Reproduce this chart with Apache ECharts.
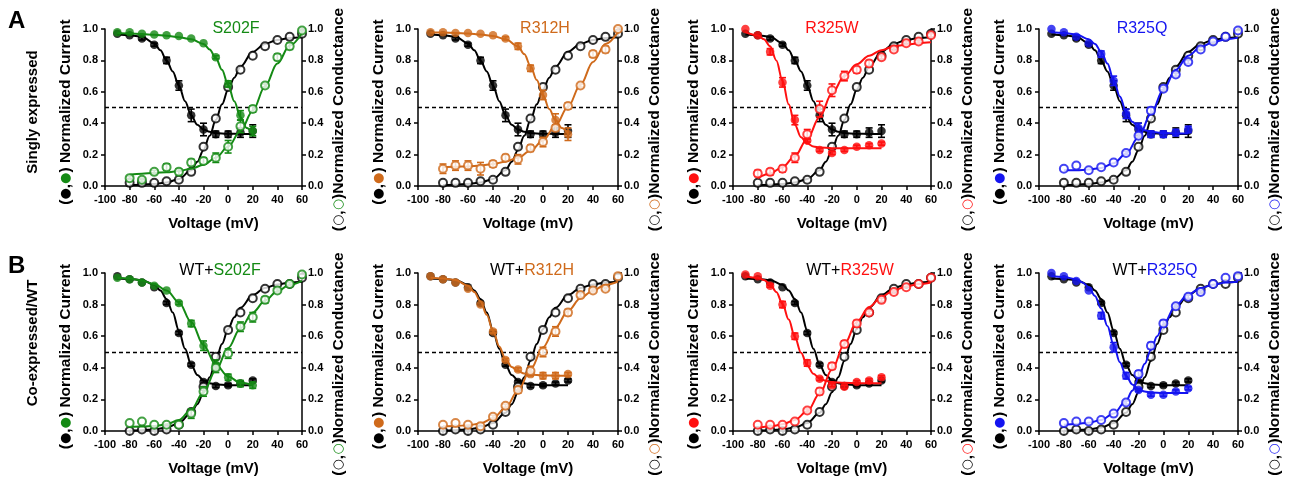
<!DOCTYPE html>
<html>
<head>
<meta charset="utf-8">
<script src="https://cdn.jsdelivr.net/npm/echarts@6/dist/echarts.min.js"></script>
<style>
  html, body { margin: 0; background: #fff; }
  #chart { width: 1289px; height: 479px; }
</style>
</head>
<body>
<div id="chart"></div>
<script>
// voltages of the measured points
const voltsCur = [-90, -80, -70, -60, -50, -40, -30, -20, -10, 0, 10, 20];
const voltsCond = [-80, -70, -60, -50, -40, -30, -20, -10, 0, 10, 20, 30, 40, 50, 60];
const xTicks = [-100, 60, 20];   // min, max, step
const yTicks = [0, 1, 0.2];

// ---- row A, WT alone ----
const wtACur = [0.97, 0.96, 0.94, 0.90, 0.80, 0.64, 0.45, 0.36, 0.33, 0.33, 0.34, 0.35];
const wtACurErr = [0, 0, 0.01, 0.01, 0.02, 0.03, 0.04, 0.04, 0.02, 0.02, 0.03, 0.04];
const wtACond = [0.02, 0.02, 0.02, 0.03, 0.04, 0.09, 0.25, 0.43, 0.63, 0.74, 0.83, 0.89, 0.93, 0.95, 0.97];
const wtACondErr = [0, 0, 0, 0, 0, 0, 0, 0, 0, 0, 0, 0, 0, 0, 0];
const wtACurFit = [[-90, 0.965], [-80, 0.96], [-70, 0.95], [-60, 0.91], [-55, 0.865], [-50, 0.80], [-45, 0.73], [-40, 0.64], [-35, 0.54], [-30, 0.45], [-25, 0.39], [-20, 0.36], [-15, 0.345], [-10, 0.337], [0, 0.333], [10, 0.332], [20, 0.332]];
const wtACondFit = [[-80, 0.005], [-70, 0.008], [-60, 0.013], [-50, 0.022], [-40, 0.045], [-30, 0.10], [-25, 0.155], [-20, 0.23], [-15, 0.32], [-10, 0.42], [-5, 0.52], [0, 0.615], [5, 0.69], [10, 0.76], [20, 0.855], [30, 0.905], [40, 0.93], [50, 0.943], [60, 0.948]];

// ---- row B, WT alone ----
const wtBCur = [0.98, 0.96, 0.94, 0.91, 0.81, 0.62, 0.42, 0.31, 0.285, 0.29, 0.30, 0.32];
const wtBCurErr = [0, 0, 0, 0, 0.01, 0.01, 0.01, 0.01, 0.01, 0.01, 0.01, 0.01];
const wtBCond = [0.0, 0.01, 0.0, 0.01, 0.04, 0.12, 0.28, 0.47, 0.64, 0.75, 0.84, 0.90, 0.93, 0.93, 0.97];
const wtBCondErr = [0, 0, 0, 0, 0, 0, 0, 0, 0, 0, 0, 0, 0, 0, 0];
const wtBCurFit = [[-90, 0.965], [-80, 0.962], [-70, 0.955], [-60, 0.925], [-55, 0.89], [-50, 0.835], [-45, 0.75], [-40, 0.635], [-35, 0.52], [-30, 0.42], [-25, 0.355], [-20, 0.32], [-15, 0.303], [-10, 0.295], [0, 0.29], [10, 0.29], [20, 0.29]];
const wtBCondFit = [[-80, 0.002], [-70, 0.005], [-60, 0.01], [-50, 0.022], [-40, 0.05], [-30, 0.115], [-25, 0.17], [-20, 0.245], [-15, 0.34], [-10, 0.445], [-5, 0.55], [0, 0.645], [5, 0.72], [10, 0.78], [20, 0.86], [30, 0.905], [40, 0.928], [50, 0.94], [60, 0.945]];

// ---- singly expressed mutants ----
const s202fCur = [0.98, 0.98, 0.97, 0.965, 0.96, 0.955, 0.94, 0.91, 0.82, 0.65, 0.45, 0.35];
const s202fCurErr = [0, 0, 0, 0, 0, 0, 0, 0, 0.01, 0.02, 0.03, 0.03];
const s202fCond = [0.05, 0.04, 0.09, 0.12, 0.09, 0.15, 0.16, 0.18, 0.25, 0.38, 0.49, 0.64, 0.82, 0.89, 0.99];
const s202fCondErr = [0.01, 0.01, 0.01, 0.02, 0.02, 0.02, 0.02, 0.03, 0.04, 0.04, 0.02, 0.01, 0.02, 0.02, 0.01];
const s202fCurFit = [[-90, 0.975], [-80, 0.972], [-70, 0.968], [-60, 0.963], [-50, 0.957], [-40, 0.948], [-30, 0.935], [-20, 0.905], [-15, 0.87], [-10, 0.815], [-5, 0.74], [0, 0.645], [5, 0.54], [10, 0.44], [15, 0.37], [20, 0.335]];
const s202fCondFit = [[-80, 0.072], [-70, 0.078], [-60, 0.083], [-50, 0.088], [-40, 0.095], [-30, 0.11], [-20, 0.135], [-10, 0.18], [0, 0.25], [10, 0.35], [20, 0.48], [30, 0.635], [40, 0.78], [50, 0.895], [60, 0.975]];

const r312hCur = [0.98, 0.98, 0.975, 0.975, 0.97, 0.96, 0.94, 0.89, 0.75, 0.58, 0.42, 0.33];
const r312hCurErr = [0, 0, 0, 0, 0, 0, 0.01, 0.02, 0.02, 0.03, 0.04, 0.04];
const r312hCond = [0.11, 0.13, 0.13, 0.11, 0.14, 0.18, 0.17, 0.24, 0.28, 0.37, 0.51, 0.64, 0.84, 0.87, 1.0];
const r312hCondErr = [0.03, 0.03, 0.03, 0.04, 0.02, 0.02, 0.03, 0.02, 0.03, 0.02, 0.02, 0.01, 0.02, 0.02, 0.01];
const r312hCurFit = [[-90, 0.978], [-80, 0.977], [-70, 0.975], [-60, 0.972], [-50, 0.965], [-40, 0.955], [-30, 0.935], [-20, 0.89], [-15, 0.84], [-10, 0.765], [-5, 0.675], [0, 0.58], [5, 0.49], [10, 0.42], [15, 0.37], [20, 0.335]];
const r312hCondFit = [[-80, 0.12], [-70, 0.122], [-60, 0.125], [-50, 0.13], [-40, 0.14], [-30, 0.155], [-20, 0.18], [-10, 0.225], [0, 0.29], [10, 0.385], [20, 0.505], [30, 0.645], [40, 0.79], [50, 0.905], [60, 0.98]];

const r325wCur = [1.0, 0.96, 0.855, 0.66, 0.42, 0.29, 0.23, 0.21, 0.23, 0.25, 0.26, 0.27];
const r325wCurErr = [0, 0, 0.02, 0.03, 0.03, 0.01, 0.01, 0.01, 0.01, 0.01, 0.01, 0.01];
const r325wCond = [0.08, 0.09, 0.11, 0.18, 0.33, 0.49, 0.61, 0.70, 0.74, 0.78, 0.82, 0.87, 0.91, 0.92, 0.96];
const r325wCondErr = [0.02, 0.02, 0.02, 0.03, 0.03, 0.05, 0.04, 0.03, 0.02, 0.02, 0.01, 0.01, 0.01, 0.01, 0.01];
const r325wCurFit = [[-90, 0.98], [-80, 0.96], [-75, 0.935], [-70, 0.89], [-65, 0.80], [-60, 0.67], [-55, 0.52], [-50, 0.39], [-45, 0.31], [-40, 0.27], [-35, 0.252], [-30, 0.245], [-20, 0.241], [-10, 0.24], [0, 0.24], [10, 0.24], [20, 0.24]];
const r325wCondFit = [[-80, 0.05], [-70, 0.08], [-60, 0.12], [-50, 0.19], [-40, 0.30], [-30, 0.44], [-20, 0.59], [-10, 0.70], [0, 0.775], [10, 0.83], [20, 0.865], [30, 0.89], [40, 0.90], [50, 0.91], [60, 0.915]];

const r325qCur = [1.0, 0.98, 0.95, 0.91, 0.84, 0.67, 0.46, 0.37, 0.33, 0.33, 0.34, 0.36];
const r325qCurErr = [0, 0, 0, 0, 0.02, 0.03, 0.03, 0.03, 0.02, 0.02, 0.02, 0.02];
const r325qCond = [0.11, 0.13, 0.10, 0.12, 0.15, 0.21, 0.32, 0.48, 0.62, 0.71, 0.79, 0.87, 0.92, 0.95, 0.99];
const r325qCondErr = [0, 0, 0, 0, 0, 0.01, 0.01, 0.02, 0.01, 0.01, 0.01, 0, 0, 0, 0];
const r325qCurFit = [[-90, 0.98], [-80, 0.975], [-70, 0.965], [-60, 0.935], [-55, 0.905], [-50, 0.855], [-45, 0.78], [-40, 0.675], [-35, 0.57], [-30, 0.475], [-25, 0.41], [-20, 0.375], [-15, 0.355], [-10, 0.345], [0, 0.338], [10, 0.335], [20, 0.335]];
const r325qCondFit = [[-80, 0.10], [-70, 0.10], [-60, 0.105], [-50, 0.115], [-40, 0.145], [-30, 0.205], [-20, 0.31], [-10, 0.46], [0, 0.615], [10, 0.74], [20, 0.83], [30, 0.885], [40, 0.915], [50, 0.935], [60, 0.945]];

// ---- co-expressed with WT ----
const coS202fCur = [0.97, 0.96, 0.94, 0.92, 0.89, 0.81, 0.68, 0.54, 0.42, 0.34, 0.30, 0.29];
const coS202fCurErr = [0, 0, 0, 0, 0, 0.01, 0.02, 0.03, 0.03, 0.02, 0.02, 0.02];
const coS202fCond = [0.05, 0.06, 0.04, 0.04, 0.04, 0.11, 0.25, 0.40, 0.49, 0.66, 0.72, 0.83, 0.89, 0.93, 0.99];
const coS202fCondErr = [0, 0, 0, 0, 0, 0.03, 0.03, 0.03, 0.03, 0.03, 0.03, 0.02, 0.01, 0.01, 0];
const coS202fCurFit = [[-90, 0.97], [-80, 0.965], [-70, 0.952], [-60, 0.93], [-50, 0.89], [-40, 0.815], [-30, 0.69], [-20, 0.545], [-10, 0.42], [0, 0.345], [10, 0.305], [20, 0.29]];
const coS202fCondFit = [[-80, 0.025], [-70, 0.028], [-60, 0.032], [-50, 0.042], [-40, 0.07], [-30, 0.135], [-20, 0.245], [-10, 0.385], [0, 0.525], [10, 0.65], [20, 0.75], [30, 0.825], [40, 0.885], [50, 0.925], [60, 0.95]];

const coR312hCur = [0.98, 0.96, 0.94, 0.90, 0.80, 0.63, 0.45, 0.39, 0.36, 0.35, 0.35, 0.36];
const coR312hCurErr = [0, 0, 0, 0, 0, 0.01, 0.01, 0.01, 0.01, 0.02, 0.02, 0.01];
const coR312hCond = [0.04, 0.05, 0.04, 0.03, 0.09, 0.16, 0.26, 0.38, 0.50, 0.63, 0.75, 0.86, 0.89, 0.90, 0.98];
const coR312hCondErr = [0, 0, 0, 0, 0.01, 0.01, 0.02, 0.03, 0.03, 0.03, 0.02, 0.01, 0.01, 0.01, 0];
const coR312hCurFit = [[-90, 0.97], [-80, 0.965], [-70, 0.955], [-60, 0.92], [-55, 0.88], [-50, 0.82], [-45, 0.735], [-40, 0.635], [-35, 0.535], [-30, 0.455], [-25, 0.405], [-20, 0.378], [-15, 0.364], [-10, 0.357], [0, 0.352], [10, 0.35], [20, 0.35]];
const coR312hCondFit = [[-80, 0.03], [-70, 0.032], [-60, 0.036], [-50, 0.048], [-40, 0.08], [-30, 0.145], [-20, 0.255], [-10, 0.39], [0, 0.53], [10, 0.655], [20, 0.76], [30, 0.84], [40, 0.89], [50, 0.925], [60, 0.945]];

const coR325wCur = [0.99, 0.98, 0.92, 0.80, 0.60, 0.43, 0.33, 0.29, 0.28, 0.31, 0.32, 0.34];
const coR325wCurErr = [0, 0, 0.01, 0.02, 0.02, 0.02, 0.01, 0.01, 0.01, 0.01, 0.01, 0.01];
const coR325wCond = [0.04, 0.04, 0.04, 0.06, 0.13, 0.25, 0.41, 0.55, 0.68, 0.75, 0.83, 0.88, 0.91, 0.93, 0.97];
const coR325wCondErr = [0, 0, 0, 0, 0.01, 0.02, 0.02, 0.02, 0.02, 0.01, 0.01, 0.01, 0, 0, 0];
const coR325wCurFit = [[-90, 0.98], [-80, 0.97], [-75, 0.955], [-70, 0.93], [-65, 0.88], [-60, 0.805], [-55, 0.705], [-50, 0.595], [-45, 0.495], [-40, 0.415], [-35, 0.362], [-30, 0.332], [-25, 0.318], [-20, 0.31], [-10, 0.305], [0, 0.303], [10, 0.302], [20, 0.302]];
const coR325wCondFit = [[-80, 0.02], [-70, 0.028], [-60, 0.042], [-50, 0.07], [-40, 0.125], [-30, 0.235], [-20, 0.39], [-10, 0.55], [0, 0.69], [10, 0.785], [20, 0.85], [30, 0.89], [40, 0.915], [50, 0.93], [60, 0.94]];

const coR325qCur = [1.0, 0.98, 0.95, 0.89, 0.73, 0.53, 0.35, 0.26, 0.23, 0.23, 0.25, 0.27];
const coR325qCurErr = [0, 0, 0, 0, 0.02, 0.03, 0.02, 0.01, 0.01, 0.01, 0.01, 0.01];
const coR325qCond = [0.05, 0.06, 0.06, 0.07, 0.11, 0.18, 0.36, 0.54, 0.68, 0.79, 0.85, 0.88, 0.93, 0.97, 0.98];
const coR325qCondErr = [0, 0, 0, 0, 0, 0.01, 0.02, 0.02, 0.02, 0.01, 0.01, 0.01, 0, 0, 0];
const coR325qCurFit = [[-90, 0.98], [-80, 0.975], [-70, 0.96], [-65, 0.94], [-60, 0.91], [-55, 0.855], [-50, 0.775], [-45, 0.665], [-40, 0.545], [-35, 0.435], [-30, 0.35], [-25, 0.295], [-20, 0.265], [-15, 0.25], [-10, 0.243], [0, 0.24], [10, 0.24], [20, 0.24]];
const coR325qCondFit = [[-80, 0.04], [-70, 0.045], [-60, 0.052], [-50, 0.07], [-40, 0.11], [-30, 0.19], [-25, 0.255], [-20, 0.335], [-15, 0.425], [-10, 0.515], [-5, 0.6], [0, 0.675], [10, 0.795], [20, 0.865], [30, 0.905], [40, 0.925], [50, 0.94], [60, 0.945]];

const GREEN = '#148a14', ORANGE = '#cf6a1b', RED = '#ff1010', BLUE = '#1414f0', BLACK = '#000';
const FONT = '"Liberation Sans", Arial, Helvetica, sans-serif';

const wtA = {cur: wtACur, curErr: wtACurErr, cond: wtACond, condErr: wtACondErr, curFit: wtACurFit, condFit: wtACondFit};
const wtB = {cur: wtBCur, curErr: wtBCurErr, cond: wtBCond, condErr: wtBCondErr, curFit: wtBCurFit, condFit: wtBCondFit};

const panels = [
  {row: 0, col: 0, name: 'S202F', color: GREEN, wt: wtA, cur: s202fCur, curErr: s202fCurErr, cond: s202fCond, condErr: s202fCondErr, curFit: s202fCurFit, condFit: s202fCondFit},
  {row: 0, col: 1, name: 'R312H', color: ORANGE, wt: wtA, cur: r312hCur, curErr: r312hCurErr, cond: r312hCond, condErr: r312hCondErr, curFit: r312hCurFit, condFit: r312hCondFit},
  {row: 0, col: 2, name: 'R325W', color: RED, wt: wtA, cur: r325wCur, curErr: r325wCurErr, cond: r325wCond, condErr: r325wCondErr, curFit: r325wCurFit, condFit: r325wCondFit},
  {row: 0, col: 3, name: 'R325Q', color: BLUE, wt: wtA, cur: r325qCur, curErr: r325qCurErr, cond: r325qCond, condErr: r325qCondErr, curFit: r325qCurFit, condFit: r325qCondFit},
  {row: 1, col: 0, name: 'S202F', color: GREEN, wt: wtB, cur: coS202fCur, curErr: coS202fCurErr, cond: coS202fCond, condErr: coS202fCondErr, curFit: coS202fCurFit, condFit: coS202fCondFit},
  {row: 1, col: 1, name: 'R312H', color: ORANGE, wt: wtB, cur: coR312hCur, curErr: coR312hCurErr, cond: coR312hCond, condErr: coR312hCondErr, curFit: coR312hCurFit, condFit: coR312hCondFit},
  {row: 1, col: 2, name: 'R325W', color: RED, wt: wtB, cur: coR325wCur, curErr: coR325wCurErr, cond: coR325wCond, condErr: coR325wCondErr, curFit: coR325wCurFit, condFit: coR325wCondFit},
  {row: 1, col: 3, name: 'R325Q', color: BLUE, wt: wtB, cur: coR325qCur, curErr: coR325qCurErr, cond: coR325qCond, condErr: coR325qCondErr, curFit: coR325qCurFit, condFit: coR325qCondFit}
];

// layout (px)
const colLeft = [105, 418, 733, 1039];
const colWidth = [197, 200, 198, 199];
const rowTop = [29, 273];
const rowHeight = [157, 158];
const titleX = [[236, 545, 832, 1142], [220, 532, 850, 1155]];
const titleY = [29, 271];

function pairs(xs, ys) { return xs.map((x, i) => [x, ys[i]]); }
function triples(xs, ys, es) { return xs.map((x, i) => [x, ys[i], es[i]]); }

function errRender(params, api) {
  const v = api.value(0), y = api.value(1), e = api.value(2);
  if (!e) return;
  const lo = api.coord([v, y - e]), hi = api.coord([v, y + e]);
  const w = 3.5;
  const style = {stroke: api.visual('color'), lineWidth: 1.6};
  return {
    type: 'group', children: [
      {type: 'line', shape: {x1: lo[0], y1: lo[1], x2: hi[0], y2: hi[1]}, style: style},
      {type: 'line', shape: {x1: lo[0] - w, y1: lo[1], x2: lo[0] + w, y2: lo[1]}, style: style},
      {type: 'line', shape: {x1: hi[0] - w, y1: hi[1], x2: hi[0] + w, y2: hi[1]}, style: style}
    ]
  };
}

const axisCommon = {
  axisLine: {show: true, onZero: false, lineStyle: {color: BLACK, width: 1.5}},
  axisTick: {show: true, length: 4, lineStyle: {color: BLACK, width: 1.5}},
  splitLine: {show: false},
  axisLabel: {color: BLACK, fontWeight: 'bold', fontSize: 11, fontFamily: FONT}
};

let grid = [], xAxis = [], yAxis = [], series = [], graphic = [];

panels.forEach((p, i) => {
  grid.push({
    left: colLeft[p.col], top: rowTop[p.row], width: colWidth[p.col], height: rowHeight[p.row],
    containLabel: false, outerBoundsMode: 'none'
  });
  xAxis.push(Object.assign({}, axisCommon, {
    gridIndex: i, type: 'value', min: xTicks[0], max: xTicks[1], interval: xTicks[2],
    axisLabel: Object.assign({}, axisCommon.axisLabel, {margin: 8}),
    name: 'Voltage (mV)', nameLocation: 'middle', nameGap: 30,
    nameTextStyle: {color: BLACK, fontWeight: 'bold', fontSize: 15, fontFamily: FONT, padding: [0, 0, 0, 20]}
  }));
  const richName = {
    p: {color: BLACK, fontWeight: 'bold', fontSize: 15.5, fontFamily: FONT},
    k: {color: BLACK, fontSize: 13, fontFamily: 'DejaVu Sans'},
    c: {color: p.color, fontSize: 13, fontFamily: 'DejaVu Sans'}
  };
  const yBase = {
    gridIndex: i, type: 'value', min: yTicks[0], max: yTicks[1], interval: yTicks[2],
    nameLocation: 'middle', nameGap: 31, nameRotate: 90
  };
  yAxis.push(Object.assign({}, axisCommon, yBase, {
    position: 'left',
    axisLabel: Object.assign({}, axisCommon.axisLabel, {margin: 7, formatter: v => v.toFixed(1)}),
    name: '{p|(}{k|●}{p|,}{c|●}{p|)}{p| Normalized Current}',
    nameTextStyle: {rich: richName, padding: [0, 9, 0, 0]}
  }));
  yAxis.push(Object.assign({}, axisCommon, yBase, {
    position: 'right', nameGap: 29,
    axisLabel: Object.assign({}, axisCommon.axisLabel, {margin: 6, formatter: v => v.toFixed(1)}),
    name: '{p|(}{k|○}{p|,}{c|○}{p|)}{p|Normalized Conductance}',
    nameTextStyle: {rich: richName, padding: [0, 24, 0, 0]}
  }));
  const yl = 2 * i, yr = 2 * i + 1;

  const groups = [
    {color: BLACK, d: p.wt},
    {color: p.color, d: p}
  ];
  groups.forEach((g, gi) => {
    const d = g.d;
    series.push({
      type: 'custom', xAxisIndex: i, yAxisIndex: yl, renderItem: errRender,
      itemStyle: {color: g.color}, data: triples(voltsCur, d.cur, d.curErr), z: 2 + gi * 3, silent: true
    });
    series.push({
      type: 'custom', xAxisIndex: i, yAxisIndex: yr, renderItem: errRender,
      itemStyle: {color: g.color}, data: triples(voltsCond, d.cond, d.condErr), z: 2 + gi * 3, silent: true
    });
    const fitLine = {
      type: 'line', xAxisIndex: i, showSymbol: false, smooth: 0.35, smoothMonotone: 'x',
      lineStyle: {color: g.color, width: 2}, z: 3 + gi * 3, silent: true
    };
    const curLine = Object.assign({}, fitLine, {yAxisIndex: yl, data: d.curFit});
    if (gi === 0) {
      curLine.markLine = {
        silent: true, symbol: 'none', label: {show: false},
        lineStyle: {color: BLACK, type: [4, 3], width: 1.3},
        data: [{yAxis: 0.5}]
      };
    }
    series.push(curLine);
    series.push(Object.assign({}, fitLine, {yAxisIndex: yr, data: d.condFit}));
    series.push({
      type: 'scatter', xAxisIndex: i, yAxisIndex: yl, symbol: 'circle', symbolSize: 8.5,
      itemStyle: {color: g.color}, data: pairs(voltsCur, d.cur), z: 4 + gi * 3, silent: true
    });
    series.push({
      type: 'scatter', xAxisIndex: i, yAxisIndex: yr, symbol: 'emptyCircle', symbolSize: 8,
      itemStyle: {color: g.color, borderColor: g.color, borderWidth: 1.6}, data: pairs(voltsCond, d.cond), z: 4 + gi * 3, silent: true
    });
  });

  const titleText = p.row === 0 ? '{c|' + p.name + '}' : '{k|WT+}{c|' + p.name + '}';
  graphic.push({
    type: 'text', x: titleX[p.row][p.col], y: titleY[p.row], z: 10,
    style: {
      text: titleText, align: 'center', verticalAlign: 'middle',
      rich: {
        k: {fill: BLACK, fontSize: 16, fontFamily: FONT},
        c: {fill: p.color, fontSize: 16, fontFamily: FONT}
      }
    }
  });
});

graphic.push(
  {type: 'text', x: 8, y: 9, style: {text: 'A', fill: BLACK, font: 'bold 24px ' + FONT}},
  {type: 'text', x: 8, y: 254, style: {text: 'B', fill: BLACK, font: 'bold 24px ' + FONT}},
  {type: 'text', x: 33, y: 112, rotation: Math.PI / 2,
    style: {text: 'Singly expressed', fill: BLACK, font: 'bold 15px ' + FONT, align: 'center', verticalAlign: 'middle'}},
  {type: 'text', x: 33, y: 343, rotation: Math.PI / 2,
    style: {text: 'Co-expressed/WT', fill: BLACK, font: 'bold 15px ' + FONT, align: 'center', verticalAlign: 'middle'}}
);

const chart = echarts.init(document.getElementById('chart'));
chart.setOption({
  animation: false,
  backgroundColor: '#fff',
  grid: grid, xAxis: xAxis, yAxis: yAxis, series: series, graphic: graphic
});
</script>
</body>
</html>
